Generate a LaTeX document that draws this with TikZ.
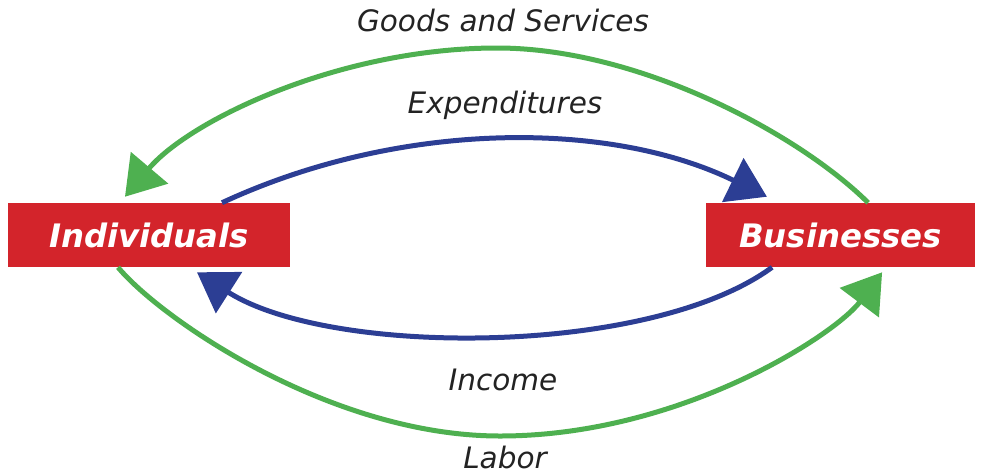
\documentclass[tikz,border=0pt]{standalone}
\usepackage{fontspec}
\setmainfont{DejaVu Sans}
\usetikzlibrary{arrows.meta}
\definecolor{boxred}{RGB}{211,36,43}
\definecolor{flowgreen}{RGB}{78,176,80}
\definecolor{flowblue}{RGB}{44,62,148}
\definecolor{textgray}{RGB}{35,35,35}

\begin{document}
\begin{tikzpicture}[>={Triangle[length=9.5mm,width=12mm]},x=0.25mm,y=-0.25mm,
  sector/.style={fill=boxred,text=white,font=\fontsize{23}{27}\selectfont\bfseries\itshape,minimum height=16mm,inner sep=0pt},
  flow/.style={font=\fontsize{21}{25}\selectfont\itshape,text=textgray},
  green flow/.style={->,flowgreen,line width=1.25mm},
  blue flow/.style={->,flowblue,line width=1.25mm}]
\useasboundingbox (0,0) rectangle (982,475);
% the two sectors
\node[sector,minimum width=70.5mm] (ind) at (149,235) {Individuals};
\node[sector,minimum width=67.25mm] (bus) at (840.5,235) {Businesses};
% labels of the flows
\node[flow] (goods) at (503,20) {Goods and Services};
\node[flow] (spend) at (505,105) {Expenditures};
\node[flow] (income) at (503,380) {Income};
\node[flow] (labor) at (505,457) {Labor};
% outer loop
\draw[green flow] ([xshift=6.9mm]bus.north) .. controls (800,135) and (640,48) .. (497,48)
  .. controls (340,48) and (190,120) .. ([xshift=-6mm,yshift=1.5mm]ind.north);
\draw[green flow] ([xshift=-7.75mm]ind.south) .. controls (160,318) and (330,436) .. (500,436)
  .. controls (680,436) and (835,335) .. ([xshift=10.4mm,yshift=-1.25mm]bus.south);
% inner loop
\draw[blue flow] ([xshift=18.25mm]ind.north) .. controls (400,120) and (610,120) .. ([xshift=-18.4mm,yshift=1.5mm]bus.north);
\draw[blue flow] ([xshift=-17.1mm]bus.south) .. controls (650,357) and (330,357) .. ([xshift=12mm,yshift=-1.25mm]ind.south);
\end{tikzpicture}
\end{document}
